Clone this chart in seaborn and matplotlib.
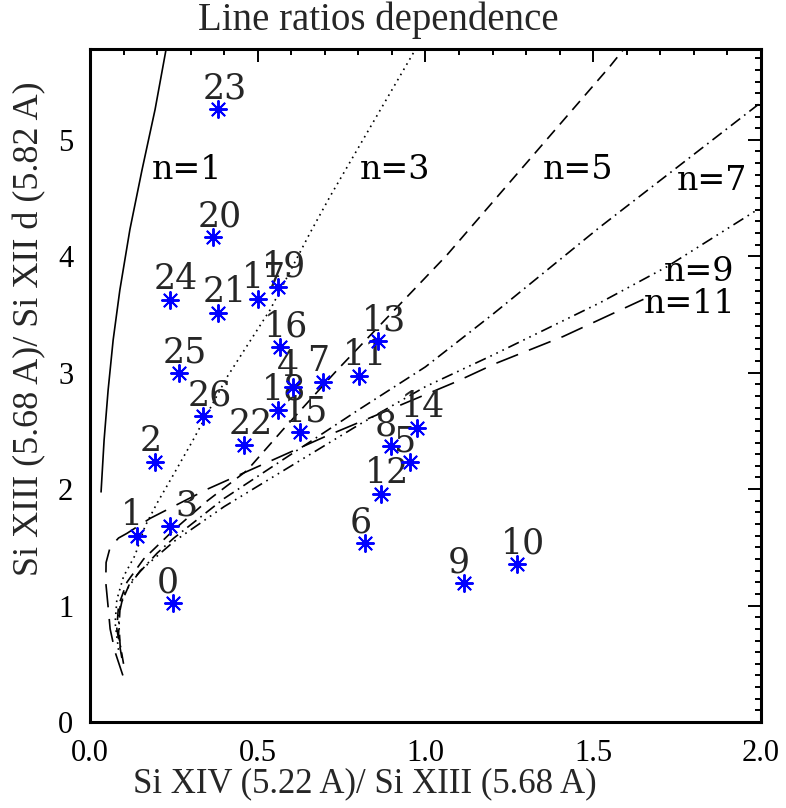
import matplotlib
matplotlib.use("Agg")
import matplotlib.pyplot as plt
from matplotlib.ticker import MultipleLocator
import pandas as pd
import seaborn as sns

# observed line ratios, one point per spectrum (labels 0..26)
point_ids = list(range(27))
ratio_x = [0.247, 0.140, 0.194, 0.238, 0.605, 0.954, 0.820, 0.694, 0.897, 1.115,
           1.273, 0.802, 0.867, 0.858, 0.975, 0.626, 0.566, 0.501, 0.560, 0.560,
           0.367, 0.382, 0.459, 0.382, 0.238, 0.265, 0.337]
ratio_y = [1.022, 1.598, 2.234, 1.684, 2.878, 2.234, 1.538, 2.921, 2.371, 1.194,
           1.357, 2.973, 1.959, 3.273, 2.526, 2.491, 3.222, 3.634, 2.680, 3.737,
           4.167, 3.514, 2.380, 5.266, 3.625, 2.998, 2.629]

# theoretical curves for the n-distributions
n1_x = [0.033, 0.042, 0.054, 0.069, 0.089, 0.119, 0.155, 0.194, 0.227]
n1_y = [1.976, 2.42, 2.85, 3.28, 3.71, 4.23, 4.74, 5.26, 5.78]

n3_x = [0.085, 0.075, 0.080, 0.100, 0.134, 0.164, 0.200, 0.244, 0.307, 0.408,
        0.537, 0.656, 0.715, 0.969]
n3_y = [0.62, 0.85, 1.05, 1.25, 1.43, 1.68, 1.88, 2.10, 2.42, 2.96,
        3.54, 4.20, 4.51, 5.77]

n5_x = [0.095, 0.080, 0.085, 0.110, 0.160, 0.250, 0.350, 0.468, 0.575, 0.736,
        1.064, 1.103, 1.550, 1.589]
n5_y = [0.55, 0.80, 1.00, 1.20, 1.40, 1.65, 1.90, 2.16, 2.51, 3.02,
        4.01, 4.14, 5.63, 5.77]

n7_x = [0.100, 0.085, 0.090, 0.120, 0.200, 0.250, 0.400, 0.600, 0.800, 1.000,
        1.200, 1.520, 2.000]
n7_y = [0.50, 0.75, 1.00, 1.20, 1.45, 1.58, 1.92, 2.30, 2.68, 3.05,
        3.50, 4.25, 5.32]

n9_x = [0.090, 0.085, 0.100, 0.150, 0.250, 0.400, 0.600, 0.800, 1.000, 1.200,
        1.520, 1.720, 1.990]
n9_y = [0.65, 0.90, 1.10, 1.30, 1.55, 1.85, 2.20, 2.55, 2.88, 3.15,
        3.60, 3.91, 4.40]

n11_x = [0.098, 0.075, 0.060, 0.054, 0.047, 0.048, 0.060, 0.085, 0.110, 0.180,
         0.350, 0.700, 1.090, 1.210, 1.410, 1.650]
n11_y = [0.40, 0.60, 0.80, 0.99, 1.20, 1.37, 1.50, 1.58, 1.62, 1.75,
         2.00, 2.45, 2.92, 3.08, 3.31, 3.63]

curve_names = ["n=1", "n=3", "n=5", "n=7", "n=9", "n=11"]
curve_xs = [n1_x, n3_x, n5_x, n7_x, n9_x, n11_x]
curve_ys = [n1_y, n3_y, n5_y, n7_y, n9_y, n11_y]

# IDL-like line styles
styles = {
    "n=1": "-",
    "n=3": (0, (1, 2.6)),
    "n=5": (0, (7, 4.5)),
    "n=7": (0, (7, 3, 1, 3)),
    "n=9": (0, (7, 3, 1, 3, 1, 3, 1, 3)),
    "n=11": (0, (14, 7)),
}
# where the curve names are written
name_pos = {
    "n=1": (0.185, 4.66),
    "n=3": (0.805, 4.66),
    "n=5": (1.35, 4.66),
    "n=7": (1.75, 4.57),
    "n=9": (1.71, 3.79),
    "n=11": (1.65, 3.51),
}
# a few point labels are shifted by hand
label_nudge = {3: (0.065, 0.0)}

sns.set_style("white")
plt.rcParams["font.family"] = ["Liberation Serif", "DejaVu Serif"]

fig = plt.figure(figsize=(7.86, 8.08), dpi=100)
ax = fig.add_axes([0.1145, 0.1064, 0.8535, 0.833])

for name, cx, cy in zip(curve_names, curve_xs, curve_ys):
    sns.lineplot(x=cx, y=cy, sort=False, estimator=None, ax=ax,
                 color="black", linewidth=1.2, linestyle=styles[name])
    tx, ty = name_pos[name]
    ax.text(tx, ty, name, fontsize=24, family="DejaVu Serif",
            ha="left", va="baseline", color="black")

pts = pd.DataFrame({"x": ratio_x, "y": ratio_y, "id": point_ids})
sns.scatterplot(data=pts, x="x", y="y", ax=ax, marker=(8, 2, 0), s=150,
                color="blue", edgecolor="blue", linewidth=1.4, zorder=5)
for _, r in pts.iterrows():
    dx, dy = label_nudge.get(int(r["id"]), (0.0, 0.0))
    ax.text(r["x"] - 0.047 + dx, r["y"] + 0.09 + dy, str(int(r["id"])),
            fontsize=25, family="DejaVu Serif", ha="left", va="baseline")

ax.set_xlim(0, 2.0)
ax.set_ylim(0, 5.78)
ax.xaxis.set_major_locator(MultipleLocator(0.5))
ax.xaxis.set_minor_locator(MultipleLocator(0.1))
ax.yaxis.set_major_locator(MultipleLocator(1))
ax.yaxis.set_minor_locator(MultipleLocator(0.1))
ax.xaxis.set_major_formatter(lambda v, p: f"{v:.1f}")
ax.yaxis.set_major_formatter(lambda v, p: f"{v:.0f}")
ax.tick_params(which="both", direction="in", top=True, right=True,
               labelsize=22, width=1.4, colors="black")
ax.tick_params(which="major", length=9.5, pad=12)
ax.tick_params(which="minor", length=4.5)
for sp in ax.spines.values():
    sp.set_linewidth(2.2)
    sp.set_color("black")

ax.set_xlabel("Si XIV (5.22 A)/ Si XIII (5.68 A)", fontsize=25)
ax.set_ylabel("Si XIII (5.68 A)/ Si XII d (5.82 A)", fontsize=26)
ax.xaxis.label.set_va("baseline")
ax.yaxis.label.set_va("baseline")
ax.xaxis.set_label_coords(0.41, -0.104)
ax.yaxis.set_label_coords(-0.077, 0.585)
fig.text(0.481, 0.975, "Line ratios dependence", fontsize=28,
         ha="center", va="center")

fig.savefig("out.png", dpi=100)
